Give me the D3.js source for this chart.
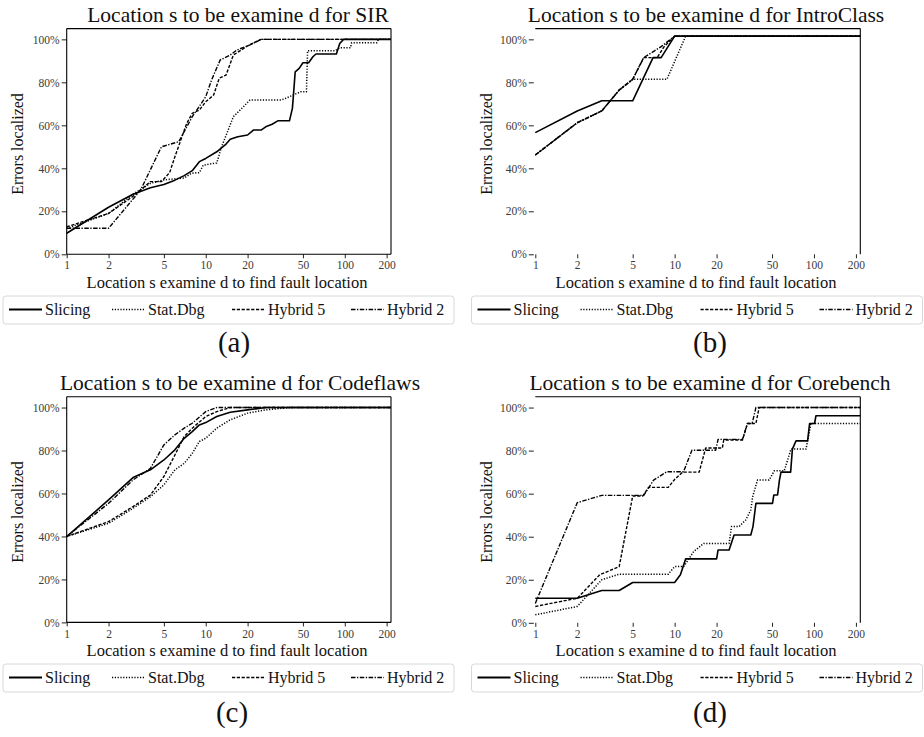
<!DOCTYPE html>
<html><head><meta charset="utf-8">
<script src="https://cdn.jsdelivr.net/npm/d3@7"></script>
<style>
html,body{margin:0;padding:0;background:#fff;}
svg{display:block;font-family:"Liberation Serif","Times New Roman",serif;}
</style></head>
<body>
<svg id="chart" width="924" height="737"></svg>
<script>
// ---------- data ----------
const seriesNames = ["Slicing", "Stat.Dbg", "Hybrid 5", "Hybrid 2"];
const xTicks = [1, 2, 5, 10, 20, 50, 100, 200];
const yTicks = [0, 20, 40, 60, 80, 100];
const panelTitles = ["Location s to be examine d for SIR", "Location s to be examine d for IntroClass",
                     "Location s to be examine d for Codeflaws", "Location s to be examine d for Corebench"];
const panelLetters = ["(a)", "(b)", "(c)", "(d)"];
const xLabel = "Location s examine d to find fault location";
const yLabel = "Errors localized";

// SIR
const sirSlicing = [[1,9.8],[2,21.9],[3,27.9],[4,31],[5,32.5],[6,34.5],[7,36.6],[8,38.9],[9,43.1],[10,44.6],[12,47.7],[14,51.3],[15,53.5],[17,54.7],[20,55.5],[22,57.8],[25,57.8],[27,59.3],[30,60.5],[33,62.1],[40,62.1],[42,67.9],[43,76.4],[44,84.9],[47,86.5],[50,89.1],[55,89.1],[59,91.9],[62,93.2],[87,93.2],[92,98.1],[98,100],[215,100]];
const sirStatDbg = [[1,12],[2,19],[3,28],[4,33],[5,34.6],[7,35.5],[7.9,37.7],[9,38],[9.6,41.5],[12,42.5],[13,50],[15.8,64],[18.7,68.7],[20.8,71.8],[35,71.8],[40,73.3],[48,75.6],[53,75.6],[54,94.7],[85,94.7],[92,96.1],[110,96.1],[112,98.4],[170,98.4],[175,100],[215,100]];
const sirHybrid5 = [[1,12.8],[2,19],[3,27],[4,33.8],[4.8,33.8],[5.5,38],[6,45.4],[7.3,60.9],[8,65.6],[9,67.1],[10,71],[11.4,74.1],[12.5,81.9],[14,83.4],[15.8,92.7],[18,95],[20,97],[25,100],[215,100]];
const sirHybrid2 = [[1,12.1],[2,12.1],[3.4,29.9],[4.8,50],[6.4,52.4],[8,64],[10,73.3],[11,81],[12.7,90.4],[15,92.7],[16.7,95],[20.8,97.4],[25,100],[215,100]];

// IntroClass
const introSlicing = [[1,56.6],[2,66.7],[3,71.4],[5,71.4],[7,91.5],[8,91.5],[10,101.5],[215,101.5]];
const introStatDbg = [[1,46.2],[2,61.2],[3,66.7],[4,76.4],[5,81.4],[8.8,81.4],[12,101.5],[215,101.5]];
const introHybrid5 = [[1,46.2],[2,61.2],[3,66.7],[4,76.4],[5,81.4],[6,91.5],[7.5,91.5],[8.4,96.6],[10,101.5],[215,101.5]];
const introHybrid2 = [[1,46.2],[2,61.2],[3,66.7],[4,76.4],[5,81.4],[6,91.5],[8,96.6],[10,101.5],[215,101.5]];

// Codeflaws
const cfSlicing = [[1,39.9],[2,57],[3,67.4],[4,71],[5,75.6],[6,80.3],[7,85.7],[8,88.8],[9,91.9],[10,93],[12,95.8],[15,97.8],[20,98.9],[27,100],[215,100]];
const cfStatDbg = [[1,40],[2,46.1],[3,53.1],[4,58.5],[5,64],[6,71],[7,74],[8,78.7],[9,84.2],[10,85.7],[12,90.4],[15,94.3],[20,97.4],[27,98.9],[40,100],[215,100]];
const cfHybrid5 = [[1,40],[2,46.9],[3,53.9],[4,59.3],[5,67.9],[6,77.9],[7,86.5],[8,90.4],[10,95.8],[12,98.1],[15,100],[215,100]];
const cfHybrid2 = [[1,40],[2,55.4],[3,66.3],[4,71.7],[5,82.6],[6,87.3],[7,90.4],[8,92.7],[10,98.1],[12,100],[215,100]];

// Corebench
const cbSlicing = [[1,11.4],[2,11.4],[3,15],[4,15],[5,18.7],[10,18.7],[11,22.3],[12,29.7],[20,29.7],[20.5,33.8],[24.6,33.8],[26.7,40.8],[35.2,40.8],[36.5,44.7],[38.3,55.5],[50.4,55.5],[51.5,59.4],[54.8,59.4],[56.5,66.3],[58,70],[68,70],[70,80.7],[74.3,84.5],[90,84.5],[93,92.6],[101,92.6],[103.3,96.2],[215,96.2]];
const cbStatDbg = [[1,3.7],[2,7.6],[3,20],[4,22.6],[9,22.6],[10,26.1],[11.6,26.1],[13.7,33.1],[16.2,36.9],[24.6,36.9],[25.6,44.7],[29,44.7],[32.4,47.8],[35.2,52.4],[36.3,58.6],[39.3,66.3],[47.7,66.3],[51.9,70.6],[61.2,70.6],[68.4,80.7],[87.7,80.7],[95.1,92.6],[215,92.6]];
const cbHybrid5 = [[1,7.6],[2,11.4],[2.9,22.3],[4,26.1],[5,58.9],[5.9,58.9],[6.5,62.9],[9,62.9],[10,66.6],[11.4,70],[15,70],[16.7,81.2],[22,81.2],[22.5,84.9],[30.7,84.9],[33.3,92.6],[38.3,92.6],[40.4,100],[215,100]];
const cbHybrid2 = [[1,9],[2,55.8],[3,59.2],[6,59.2],[7.06,66.3],[8.8,70.2],[11.6,70.2],[13.3,80.2],[19.7,80.2],[20.5,85.2],[30.7,85.2],[33.3,92.6],[36,92.6],[38.3,100],[215,100]];

const panelSeries = [
  [sirSlicing, sirStatDbg, sirHybrid5, sirHybrid2],
  [introSlicing, introStatDbg, introHybrid5, introHybrid2],
  [cfSlicing, cfStatDbg, cfHybrid5, cfHybrid2],
  [cbSlicing, cbStatDbg, cbHybrid5, cbHybrid2]
];

// ---------- layout / style ----------
const styles = [
  {dash: null, w: 1.6},
  {dash: "1.2,1.6", w: 1.5},
  {dash: "3.2,1.6", w: 1.4},
  {dash: "4.5,1.5,1.3,1.5", w: 1.4}
];
const panels = [
  {left: 66.7, right: 391, top: 28.6, bottom: 254.3, box: true, titleX: 238, titleY: 21.5, xlabX: 227, xlabY: 288, ylabX: 18, ylabY: 144, legX: 3, legY: 296, letterX: 234, letterY: 352},
  {left: 535.3, right: 860.3, top: 28.6, bottom: 254.3, box: false, titleX: 706, titleY: 21.5, xlabX: 696, xlabY: 288, ylabX: 487, ylabY: 144, legX: 471.5, legY: 296, letterX: 710, letterY: 352},
  {left: 66.7, right: 391, top: 396.8, bottom: 622.4, box: true, titleX: 240, titleY: 389.5, xlabX: 227, xlabY: 656, ylabX: 18, ylabY: 512, legX: 3, legY: 664, letterX: 232, letterY: 722},
  {left: 535.3, right: 860.3, top: 396.8, bottom: 622.8, box: false, titleX: 710, titleY: 389.5, xlabX: 696, xlabY: 656, ylabX: 487, ylabY: 512, legX: 471.5, legY: 664, letterX: 710, letterY: 722}
];
const legendOffsets = [6, 109, 229, 348];

const svg = d3.select("#chart");

panels.forEach((p, i) => {
  const x = d3.scaleLog().domain([1, 215]).range([p.left, p.right]);
  const y = d3.scaleLinear().domain([0, 105]).range([p.bottom, p.top]);
  const g = svg.append("g");

  // axes
  const xa = g.append("g").attr("transform", `translate(0,${p.bottom})`)
    .call(d3.axisBottom(x).tickValues(xTicks).tickFormat(d3.format("d")).tickSizeOuter(0).tickSize(4).tickPadding(3));
  const ya = g.append("g").attr("transform", `translate(${p.left},0)`)
    .call(d3.axisLeft(y).tickValues(yTicks).tickFormat(d => d + "%").tickSizeOuter(0).tickSize(5).tickPadding(2));
  [xa, ya].forEach(a => {
    a.attr("font-family", "Liberation Serif");
    a.selectAll("text").attr("font-family", "Liberation Serif").attr("font-size", 11.5).attr("fill", "#3a3a3a");
    a.selectAll("line").attr("stroke", "#222").attr("stroke-width", 1);
    a.select(".domain").remove();
  });
  if (!p.box) ya.attr("transform", `translate(${p.left - 1.5},0)`);

  // spines
  const sp = g.append("g").attr("stroke", "#000").attr("stroke-width", 1.1).attr("fill", "none");
  sp.append("line").attr("x1", p.left).attr("x2", p.right).attr("y1", p.top).attr("y2", p.top);
  sp.append("line").attr("x1", p.right).attr("x2", p.right).attr("y1", p.top).attr("y2", p.bottom);
  if (p.box) {
    sp.append("line").attr("x1", p.left).attr("x2", p.left).attr("y1", p.top).attr("y2", p.bottom);
    sp.append("line").attr("x1", p.left).attr("x2", p.right).attr("y1", p.bottom).attr("y2", p.bottom);
  }

  // lines
  const line = d3.line().x(d => x(d[0])).y(d => y(d[1]));
  panelSeries[i].forEach((s, k) => {
    g.append("path").datum(s).attr("d", line)
      .attr("fill", "none").attr("stroke", "#000")
      .attr("stroke-width", styles[k].w)
      .attr("stroke-dasharray", styles[k].dash)
      .attr("stroke-linejoin", "round");
  });

  // texts
  g.append("text").attr("x", p.titleX).attr("y", p.titleY).attr("text-anchor", "middle")
    .attr("font-size", 21.5).attr("fill", "#111").text(panelTitles[i]);
  g.append("text").attr("x", p.xlabX).attr("y", p.xlabY).attr("text-anchor", "middle")
    .attr("font-size", 16.5).attr("fill", "#111").text(xLabel);
  g.append("text").attr("transform", `translate(${p.ylabX + 5},${p.ylabY}) rotate(-90)`).attr("text-anchor", "middle")
    .attr("font-size", 16).attr("fill", "#111").text(yLabel);

  // legend
  const lg = g.append("g").attr("transform", `translate(${p.legX},${p.legY})`);
  lg.append("rect").attr("width", 451).attr("height", 28).attr("rx", 3)
    .attr("fill", "#fff").attr("stroke", "#d8d8d8").attr("stroke-width", 1);
  seriesNames.forEach((n, k) => {
    const ox = legendOffsets[k];
    lg.append("line").attr("x1", ox).attr("x2", ox + 33).attr("y1", 13.5).attr("y2", 13.5)
      .attr("stroke", "#000").attr("stroke-width", k === 0 ? 2 : 1.5)
      .attr("stroke-dasharray", styles[k].dash);
    lg.append("text").attr("x", ox + 36).attr("y", 19).attr("font-size", 16).attr("fill", "#111").text(n);
  });

  g.append("text").attr("x", p.letterX).attr("y", p.letterY).attr("text-anchor", "middle")
    .attr("font-size", 29).attr("fill", "#111").text(panelLetters[i]);
});
</script>
</body></html>
